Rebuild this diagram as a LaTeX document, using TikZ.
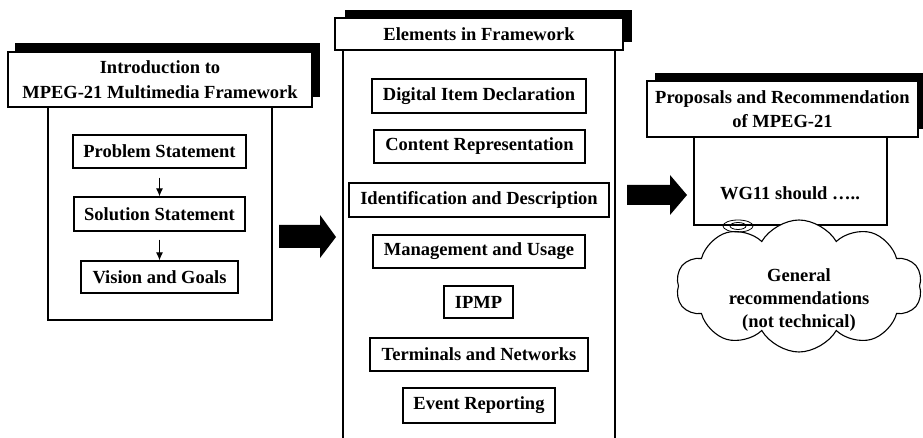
\documentclass[tikz,border=0pt]{standalone}
\usepackage{fontspec}
\setmainfont{Liberation Serif}
\usetikzlibrary{shapes.symbols,arrows.meta}
\tikzset{
  box/.style={draw, line width=1.2pt, fill=white, inner sep=0pt, align=center,
    font=\bfseries\fontsize{18.5}{24.5}\selectfont},
  frame/.style={draw, line width=1.2pt, fill=white, inner sep=0pt},
  shadowbar/.style={fill=black},
  blockarrow/.style={fill=black},
  flow/.style={line width=1.2pt, -{Latex[length=8pt,width=7pt]}},
  txt/.style={inner sep=0pt, align=center, font=\bfseries\fontsize{18.5}{23}\selectfont},
}
\begin{document}
\begin{tikzpicture}[x=1pt,y=-1pt]
\useasboundingbox (0,0) rectangle (923,438);
% ---------- left panel ----------
\fill[shadowbar] (15,43) rectangle (320,97);
\node[frame, minimum width=224pt, minimum height=213pt] (lframe) at (160,213.5) {};
\node[box, minimum width=304pt, minimum height=55pt] (ltitle) at (160,79.5) {Introduction to\\MPEG-21 Multimedia Framework};
\node[box, minimum width=173pt, minimum height=33pt] (ps) at (159.5,151.5) {Problem Statement};
\node[box, minimum width=171pt, minimum height=34pt] (ss) at (159.5,214) {Solution Statement};
\node[box, minimum width=157pt, minimum height=32pt] (vg) at (159.5,277) {Vision and Goals};
\draw[flow, shorten <=9pt] (ps.south) -- (ss.north);
\draw[flow, shorten <=8pt] (ss.south) -- (vg.north);
% ---------- arrow 1 ----------
\fill[blockarrow] (279,225) -- (320,225) -- (320,215) -- (336,237) -- (320,258) -- (320,248) -- (279,248) -- cycle;
% ---------- middle panel ----------
\fill[shadowbar] (345,10) rectangle (632,42);
\node[frame, minimum width=272pt, minimum height=400pt] (mframe) at (479,250) {};
\node[box, minimum width=288pt, minimum height=32pt] (mtitle) at (479,34) {Elements in Framework};
\node[box, minimum width=214pt, minimum height=34pt] (did) at (479,96) {Digital Item Declaration};
\node[box, minimum width=211pt, minimum height=33pt] (cr) at (479.5,146.5) {Content Representation};
\node[box, minimum width=260pt, minimum height=34pt] (idd) at (479,200) {Identification and Description};
\node[box, minimum width=212pt, minimum height=33pt] (mu) at (479,251.5) {Management and Usage};
\node[box, minimum width=69pt, minimum height=32pt] (ipmp) at (478.5,302) {IPMP};
\node[box, minimum width=218pt, minimum height=33pt] (tn) at (479,354.5) {Terminals and Networks};
\node[box, minimum width=152pt, minimum height=35pt] (er) at (479,405.5) {Event Reporting};
% ---------- arrow 2 ----------
\fill[blockarrow] (627,185) -- (670,185) -- (670,175) -- (687,195) -- (670,215) -- (670,205) -- (627,205) -- cycle;
% ---------- right panel ----------
\fill[shadowbar] (655,73) rectangle (930,129);
\node[frame, minimum width=193pt, minimum height=88pt] (rframe) at (790.5,181) {};
\node[box, minimum width=271pt, minimum height=56pt] (rtitle) at (782.5,109) {Proposals and Recommendation\\of MPEG-21};
\node[txt] (wg) at (790,193) {WG11 should …..};
\node[cloud, cloud puffs=10, cloud puff arc=120, aspect=2.0, draw, line width=1.1pt, fill=white,
  minimum width=246pt, minimum height=132pt] (cloud) at (799,286) {};
\draw[line width=0.8pt] (738,226) ellipse (15pt and 6pt);
\draw[line width=0.8pt] (738,226) ellipse (8pt and 3.5pt);
\node[txt] (gen) at (799,300) {General\\recommendations\\(not technical)};
\end{tikzpicture}
\end{document}
